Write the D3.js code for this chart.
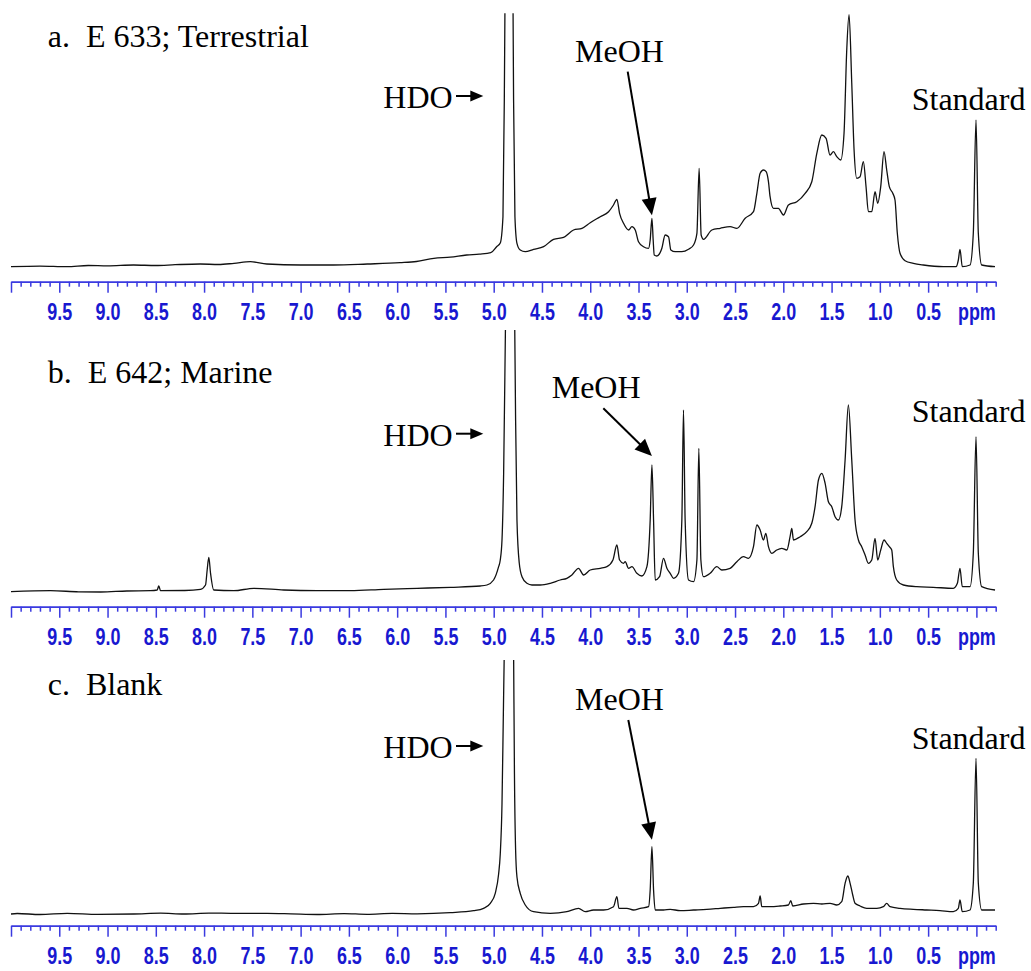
<!DOCTYPE html>
<meta charset="utf-8">
<script src="https://cdn.jsdelivr.net/npm/d3@7"></script>
<style>
  body { margin: 0; background: #fff; }
  .note { font-family: "Liberation Serif", "Times New Roman", serif; font-size: 32px; fill: #000; white-space: pre; }
  .ax text { font-family: "Liberation Sans", Arial, sans-serif; font-weight: bold; font-size: 23px; fill: #1818d0; }
  .ax line, .ax path { stroke: #3a3ae0; stroke-width: 1.5; }
</style>
<div id="chart"></div>
<script>

// chemical shift scale (ppm), ticks every 0.1, labelled every 0.5
var ppmStart = 10.0, ppmEnd = -0.2;
var tickLabelled = [9.5, 9.0, 8.5, 8.0, 7.5, 7.0, 6.5, 6.0, 5.5, 5.0, 4.5, 4.0, 3.5, 3.0, 2.5, 2.0, 1.5, 1.0, 0.5, 0.0];

// traced spectra: [ppm, intensity (a.u.)]
var specA = [[10.0,0],[9.7,0.6],[9.42,0],[9.2,1.2],[9.0,0.8],[8.73,1.7],[8.5,1.2],[8.3,2.0],[8.04,2.7],[7.85,2.2],[7.69,3.4],[7.52,5],[7.35,2.7],[7.0,1.7],[6.66,1.7],[6.31,2.7],[5.97,4],[5.8,5.2],[5.62,8.4],[5.45,9.6],[5.28,11.7],[5.15,12.6],[5.03,14],[4.97,20],[4.932,23.7],[4.904,50],[4.890,167],[4.883,265],[4.842,600],[4.800,265],[4.794,167],[4.780,50],[4.759,23.4],[4.725,16.7],[4.673,15],[4.587,17.4],[4.483,20],[4.380,27.4],[4.276,29.4],[4.173,36.7],[4.086,38.4],[4.0,44],[3.896,50],[3.810,55],[3.759,61.7],[3.724,67.4],[3.696,53.4],[3.655,43.4],[3.603,36.7],[3.568,40],[3.534,36.7],[3.500,25],[3.448,20],[3.396,18.4],[3.379,26.7],[3.361,48.4],[3.348,26.7],[3.337,11.7],[3.310,10.7],[3.258,18.4],[3.224,31.7],[3.189,30],[3.165,16.7],[3.120,15],[3.051,15],[2.982,17.4],[2.930,21.7],[2.895,33.4],[2.872,98.4],[2.851,31.7],[2.827,27.4],[2.740,36.7],[2.654,38.4],[2.551,40],[2.481,38.4],[2.395,48.4],[2.309,55],[2.274,73.4],[2.240,93.4],[2.206,96.7],[2.178,95],[2.154,85],[2.137,70],[2.102,58.4],[2.051,58.4],[1.999,51.7],[1.947,61.7],[1.860,65],[1.774,73.4],[1.705,85],[1.653,113.4],[1.601,131.7],[1.557,128.4],[1.516,111.7],[1.481,115],[1.446,110],[1.405,106.7],[1.371,133.4],[1.343,216.7],[1.319,252],[1.291,183.4],[1.267,116.7],[1.239,88.4],[1.205,90],[1.171,105],[1.143,80],[1.119,55],[1.084,55],[1.050,75],[1.022,63.4],[0.991,80],[0.957,115],[0.929,96.7],[0.902,80],[0.866,73.4],[0.843,66.7],[0.819,33.4],[0.791,13.4],[0.739,6],[0.653,3.4],[0.550,1.7],[0.343,0],[0.211,0],[0.187,6.7],[0.170,17.4],[0.146,0],[0.066,1.7],[0.032,33.4],[0.004,146.7],[-0.020,33.4],[-0.055,1.7],[-0.193,0]];

var specB = [[10.0,0.3],[9.59,1.3],[9.3,0.2],[9.07,0],[8.8,1.0],[8.555,1.3],[8.486,2],[8.469,6],[8.451,1.3],[8.2,1.5],[8.037,2.7],[7.985,7],[7.968,22],[7.951,34.7],[7.933,18.7],[7.9,2],[7.692,1.3],[7.485,3.7],[7.175,2],[6.829,1.3],[6.484,1.3],[6.14,2.7],[5.794,3.7],[5.449,4.7],[5.139,6],[5.07,7],[5.001,12],[4.949,25.3],[4.932,32],[4.914,52],[4.897,118.7],[4.877,275],[4.83,600],[4.783,275],[4.773,172],[4.759,72],[4.735,28.7],[4.707,15.3],[4.656,8.7],[4.604,7],[4.518,7],[4.414,8.7],[4.311,12],[4.242,13.7],[4.19,17],[4.121,23.7],[4.069,17],[4.0,22],[3.896,23.7],[3.827,25.3],[3.765,32],[3.724,47],[3.696,32],[3.655,28.7],[3.638,30.3],[3.603,23.7],[3.568,25.3],[3.517,18.7],[3.465,16],[3.413,25.3],[3.379,72],[3.361,127],[3.344,72],[3.327,12],[3.282,15.3],[3.241,33.7],[3.206,23.7],[3.172,18.7],[3.137,13.7],[3.086,18.7],[3.051,72],[3.034,182],[3.017,72],[2.982,12],[2.930,10.3],[2.895,32],[2.875,143.7],[2.854,32],[2.827,15.3],[2.758,18.7],[2.689,25.3],[2.637,22],[2.551,23.7],[2.481,30.3],[2.413,35.3],[2.361,33.7],[2.309,45.3],[2.274,67],[2.240,62],[2.206,52],[2.181,58.7],[2.154,45.3],[2.119,38.7],[2.068,42],[2.016,43.7],[1.964,42],[1.930,55.3],[1.912,63.7],[1.895,52],[1.826,55.3],[1.757,60.3],[1.705,68.7],[1.671,85.3],[1.636,112],[1.601,118.7],[1.567,108.7],[1.533,90.3],[1.498,85.3],[1.464,75.3],[1.429,72],[1.395,85.3],[1.360,132],[1.326,187],[1.291,132],[1.257,72],[1.222,52],[1.188,45.3],[1.153,37],[1.119,28.7],[1.084,32],[1.050,53.7],[1.022,32],[0.991,42],[0.957,52],[0.929,48.7],[0.902,45.3],[0.877,42],[0.860,25.3],[0.825,12],[0.756,7],[0.618,5.3],[0.446,4.7],[0.239,3.7],[0.197,8.7],[0.170,23.7],[0.146,5.3],[0.066,5.3],[0.032,38.7],[0.004,155.3],[-0.020,38.7],[-0.055,5.3],[-0.193,2]];

var specC = [[10.0,0],[9.935,0.5],[9.7,-0.5],[9.417,0.7],[9.1,-0.3],[8.728,0],[8.45,0.8],[8.21,0],[7.95,0.9],[7.692,0.7],[7.347,0.7],[7.1,0.2],[6.829,-0.5],[6.55,0.4],[6.312,-0.3],[6.05,0.6],[5.794,0.2],[5.449,1.3],[5.208,3.3],[5.105,5.7],[5.035,10.7],[4.984,20.7],[4.949,40],[4.932,60],[4.914,110],[4.90,200],[4.89,265],[4.842,600],[4.794,265],[4.785,140],[4.773,64],[4.759,37],[4.725,20.7],[4.673,9],[4.587,2.3],[4.414,0.7],[4.242,2.3],[4.121,5.7],[4.052,2.3],[3.966,4],[3.862,4],[3.759,7.3],[3.724,17.3],[3.703,5.7],[3.620,5.7],[3.552,4],[3.482,5.7],[3.396,7.3],[3.379,24],[3.361,67.3],[3.344,24],[3.327,4],[3.241,4],[3.172,4.7],[3.068,3.3],[2.930,4],[2.792,4.7],[2.654,5.7],[2.516,6.7],[2.413,7.3],[2.309,7.3],[2.257,10.7],[2.240,18],[2.223,7.3],[2.137,7.3],[2.033,8],[1.947,9],[1.923,13.3],[1.902,8],[1.792,10],[1.688,10.7],[1.601,10],[1.516,10.7],[1.446,9],[1.395,12.3],[1.360,30.7],[1.332,38],[1.308,30.7],[1.281,19],[1.257,10.7],[1.205,8],[1.136,5.7],[1.032,5.7],[0.964,7.3],[0.929,10.7],[0.894,7.3],[0.791,5.7],[0.653,4.7],[0.514,4],[0.377,3.3],[0.239,2.3],[0.187,5.7],[0.170,14],[0.146,2.3],[0.066,4],[0.032,30.7],[0.004,155.7],[-0.020,30.7],[-0.055,4],[-0.193,4]];

var titles = ["a.  E 633; Terrestrial", "b.  E 642; Marine", "c.  Blank"];
var spectra = [specA, specB, specC];
var meohShift = 3.361;   // MeOH singlet

// page layout for each panel (pixels)
var layout = [
  {base: 266.7, top: 13.3, axisY: 281.7, titleY: 46.7, hdoY: 108.3, meohX: 575, meohY: 61.7, meohFrom: [627.7, 71.7], meohGap: 3, stdY: 110},
  {base: 592,   top: 330,  axisY: 606.7, titleY: 383.3, hdoY: 446, meohX: 551.7, meohY: 398.3, meohFrom: [603.3, 408.3], meohGap: 9, stdY: 421.7},
  {base: 914,   top: 660,  axisY: 925.7, titleY: 695, hdoY: 758.3, meohX: 575, meohY: 710, meohFrom: [628.3, 720], meohGap: 7, stdY: 749.3}
];

var width = 1031, height = 971;

var svg = d3.select("#chart").append("svg")
    .attr("width", width)
    .attr("height", height);

var x = d3.scaleLinear().domain([ppmStart, ppmEnd]).range([11, 995.7]);

var allTicks = d3.range(0, 103).map(function(i){ return +(ppmStart - i * 0.1).toFixed(1); });
var majorTicks = allTicks.filter(function(d, i){ return i % 5 == 0; });
var minorTicks = allTicks.filter(function(d, i){ return i % 5 != 0; });

// arrow = line + filled head
function arrow(g, x0, y0, x1, y1, len, half) {
  var dx = x1 - x0, dy = y1 - y0, L = Math.sqrt(dx*dx + dy*dy);
  var ux = dx / L, uy = dy / L;
  var bx = x1 - ux * len, by = y1 - uy * len;
  g.append("line")
    .attr("x1", x0).attr("y1", y0).attr("x2", bx + ux).attr("y2", by + uy)
    .attr("stroke", "#000").attr("stroke-width", 2);
  g.append("path")
    .attr("d", "M" + x1 + "," + y1 + "L" + (bx - uy*half) + "," + (by + ux*half) + "L" + (bx + uy*half) + "," + (by - ux*half) + "Z")
    .attr("fill", "#000");
}

layout.forEach(function(p, k) {
  var y = d3.scaleLinear().domain([0, 100]).range([p.base, p.base - 100]);
  var g = svg.append("g");

  g.append("clipPath").attr("id", "clip" + k)
    .append("rect")
      .attr("x", 0).attr("y", p.top)
      .attr("width", width).attr("height", p.axisY - p.top);

  // spectrum trace
  g.append("path")
    .datum(spectra[k])
    .attr("clip-path", "url(#clip" + k + ")")
    .attr("fill", "none")
    .attr("stroke", "#111")
    .attr("stroke-width", 1.3)
    .attr("stroke-linejoin", "round")
    .attr("d", d3.line()
      .curve(d3.curveMonotoneX)
      .x(function(d){ return x(d[0]); })
      .y(function(d){ return y(d[1]); }));

  // ppm axis: minor ticks, then labelled major ticks
  var ax = g.append("g").attr("class", "ax")
    .attr("transform", "translate(0," + p.axisY + ")");
  ax.append("g").call(d3.axisBottom(x).tickValues(minorTicks).tickSize(5).tickSizeOuter(0).tickFormat(""));
  ax.append("g").call(d3.axisBottom(x).tickValues(majorTicks).tickSize(11).tickSizeOuter(0)
      .tickFormat(function(d){
        if (d == 0) return "ppm";
        return tickLabelled.indexOf(d) >= 0 ? d.toFixed(1) : "";
      }));
  ax.selectAll("text")
    .attr("y", 38).attr("dy", 0)
    .attr("transform", "scale(0.78,1)");

  // annotations
  g.append("text").attr("class", "note").attr("x", 47.7).attr("y", p.titleY).text(titles[k]);
  g.append("text").attr("class", "note").attr("x", 383.3).attr("y", p.hdoY).text("HDO");
  arrow(g, 456, p.hdoY - 12.3, 483.3, p.hdoY - 12.3, 13, 5.5);

  g.append("text").attr("class", "note").attr("x", p.meohX).attr("y", p.meohY).text("MeOH");
  var peak = spectra[k].filter(function(d){ return d[0] == meohShift; })[0];
  arrow(g, p.meohFrom[0], p.meohFrom[1], x(meohShift), y(peak[1]) - p.meohGap, 17, 7.5);

  g.append("text").attr("class", "note").attr("x", 911.7).attr("y", p.stdY).text("Standard");
});

</script>
